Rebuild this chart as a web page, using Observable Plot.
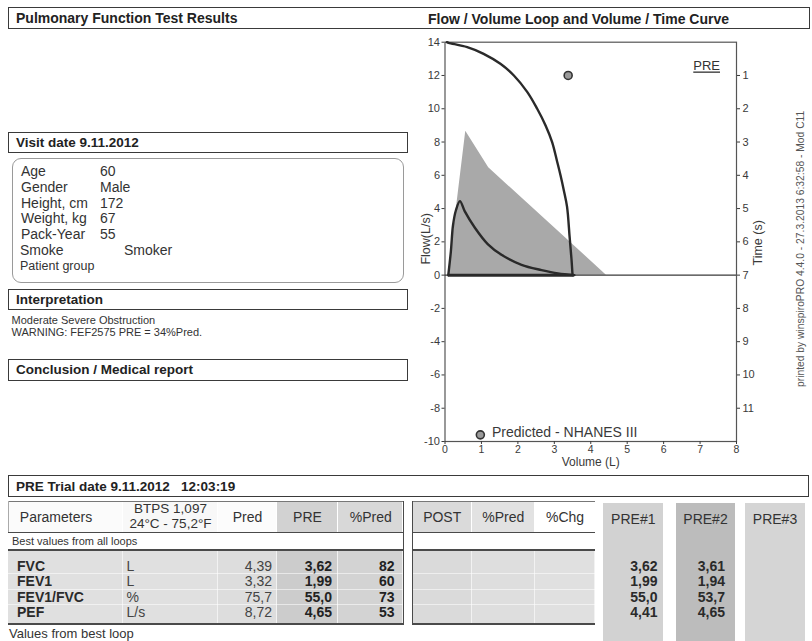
<!DOCTYPE html>
<html><head><meta charset="utf-8">
<script src="https://cdn.jsdelivr.net/npm/d3@7"></script>
<script src="https://cdn.jsdelivr.net/npm/@observablehq/plot@0.6"></script>
<style>
body{margin:0;background:#fff;}
#page{position:relative;width:812px;height:641px;overflow:hidden;font-family:"Liberation Sans",Arial,sans-serif;color:#2b2b2b;background:#fff;}
.abs{position:absolute;box-sizing:border-box;white-space:nowrap;}
.hbox{border:1.5px solid #3a3a3a;background:#fff;font-weight:bold;font-size:14px;padding-left:7px;display:flex;align-items:center;color:#222;}
.t{position:absolute;white-space:nowrap;line-height:1;transform:translateY(-50%);}
</style></head><body><div id="page"></div>
<script>
// ---------- chart data ----------
const flowTicks = [-10,-8,-6,-4,-2,0,2,4,6,8,10,12,14];
const volumeTicks = [0,1,2,3,4,5,6,7,8];
const timeTicks = [1,2,3,4,5,6,7,8,9,10,11];

// Flow / volume loop (measured, PRE)
const loopVolume = [0.09,0.16,0.22,0.30,0.41,0.54,0.82,1.18,1.55,2.10,2.65,3.10,3.55];
const loopFlow   = [0.00,1.40,3.00,3.90,4.45,3.85,2.85,1.85,1.22,0.62,0.30,0.10,0.00];

// Volume / time curve (PRE)
const vtVolume = [0.05,0.10,0.61,1.06,1.52,1.89,2.26,2.53,2.76,2.94,3.08,3.17,3.26,3.35,3.42,3.47,3.50];
const vtTime   = [0.00,0.02,0.15,0.35,0.65,1.00,1.50,2.00,2.50,3.00,3.60,4.00,4.45,4.95,5.85,6.50,7.00];

// Predicted area (shaded)
const predAreaVolume = [0.09,0.57,1.20,4.43];
const predAreaFlow   = [0.00,8.65,6.45,0.00];

// Predicted PEF marker
const predPointVolume = [3.38];
const predPointFlow = [12.0];

// ---------- table data ----------
const params   = ["FVC","FEV1","FEV1/FVC","PEF"];
const units    = ["L","L","%","L/s"];
const predVals = ["4,39","3,32","75,7","8,72"];
const preVals  = ["3,62","1,99","55,0","4,65"];
const pctPred  = ["82","60","73","53"];
const pre1Vals = ["3,62","1,99","55,0","4,41"];
const pre2Vals = ["3,61","1,94","53,7","4,65"];
const pre3Vals = ["","","",""];

const patientLabels = ["Age","Gender","Height, cm","Weight, kg","Pack-Year"];
const patientValues = ["60","Male","172","67","55"];

const page = document.getElementById("page");
function el(cls, style, html){
  const d=document.createElement("div"); d.className=cls; d.setAttribute("style",style); if(html!==undefined) d.innerHTML=html; page.appendChild(d); return d;
}
function hbox(x,y,w,h,text,fs){ el("abs hbox",`left:${x}px;top:${y}px;width:${w}px;height:${h}px;font-size:${fs||14}px;`,text); }
function txt(x,y,text,style){ el("t",`left:${x}px;top:${y}px;${style||""}`,text); }
function txtR(xr,y,text,style){ el("t",`right:${812-xr}px;top:${y}px;${style||""}`,text); }
function txtC(xc,y,text,style){ el("t",`left:${xc}px;top:${y}px;transform:translate(-50%,-50%);text-align:center;${style||""}`,text); }

// ---------- chart ----------
const loopData = loopVolume.map((v,i)=>({v, f: loopFlow[i]}));
const vtData = vtVolume.map((v,i)=>({v, t: vtTime[i]}));
const areaData = predAreaVolume.map((v,i)=>({v, f: predAreaFlow[i]}));
const predPoint = predPointVolume.map((v,i)=>({v, f: predPointFlow[i]}));

const chartDiv = el("abs", "left:405px;top:30px;width:400px;height:440px;overflow:visible;");
const chart = Plot.plot({
  width: 400, height: 440,
  marginLeft: 39.5, marginRight: 69, marginTop: 11.7, marginBottom: 29,
  x: {domain: [0, 8]},
  y: {domain: [-10, 14]},
  style: {background: "transparent", fontFamily: "'Liberation Sans', Arial, sans-serif", color: "#3a3a3a", overflow: "visible"},
  marks: [
    Plot.areaY(areaData, {x: "v", y: "f", fill: "#a9a9a9"}),
    Plot.frame({stroke: "#555", strokeWidth: 1.2}),
    Plot.ruleY([0], {stroke: "#3a3a3a", strokeWidth: 1.3}),
    Plot.ruleY([0], {x1: loopVolume[0], x2: loopVolume[loopVolume.length-1], stroke: "#2a2a2a", strokeWidth: 3}),
    Plot.line(loopData, {x: "v", y: "f", stroke: "#2a2a2a", strokeWidth: 2.4, curve: "catmull-rom"}),
    Plot.line(vtData, {x: "v", y: d => 14 - 2 * d.t, stroke: "#2a2a2a", strokeWidth: 2.4, curve: "catmull-rom"}),
    Plot.dot(predPoint, {x: "v", y: "f", r: 4, fill: "#9a9a9a", stroke: "#333", strokeWidth: 1.6}),
    Plot.axisY(flowTicks, {anchor: "left", tickSize: 3, tickPadding: 2, fontSize: 11, tickFormat: d => String(d), label: null}),
    Plot.axisY(timeTicks.map(t => 14 - 2 * t), {anchor: "right", tickSize: 3, tickPadding: 3, fontSize: 11, tickFormat: d => String((14 - d) / 2), label: null}),
    Plot.axisX(volumeTicks, {anchor: "bottom", tickSize: 3, tickPadding: 1, fontSize: 10.5, tickFormat: d => String(d), label: null}),
    Plot.text(["Flow(L/s)"], {frameAnchor: "left", textAnchor: "middle", rotate: -90, dx: -19, dy: -3, fontSize: 12.5}),
    Plot.text(["Time (s)"], {frameAnchor: "right", textAnchor: "middle", rotate: -90, dx: 21, dy: 1, fontSize: 12.5}),
    Plot.text(["Volume (L)"], {frameAnchor: "bottom", textAnchor: "middle", dy: 24, fontSize: 12}),
    Plot.text(["printed by winspiroPRO 4.4.0 - 27.3.2013 6:32:58 - Mod C11"], {frameAnchor: "right", textAnchor: "middle", rotate: -90, dx: 64, dy: 7, fontSize: 10.3, fill: "#555"}),
    Plot.text([{v: 7.18, f: 12.55, label: "PRE"}], {x: "v", y: "f", text: "label", fontSize: 13, fill: "#333"}),
    Plot.dot([{v: 0.97, f: -9.6}], {x: "v", y: "f", r: 4, fill: "#9a9a9a", stroke: "#333", strokeWidth: 1.6}),
    Plot.text([{v: 1.29, f: -9.45, label: "Predicted - NHANES III"}], {x: "v", y: "f", text: "label", textAnchor: "start", fontSize: 14, fill: "#3a3a3a"})
  ]
});
chartDiv.appendChild(chart);
d3.select(chart).selectAll("text").filter(function(){return this.textContent === "PRE";}).style("text-decoration", "underline");

// ---------- left panel ----------
el("abs","left:8px;top:6.5px;width:802px;height:22px;border:1.5px solid #3a3a3a;");
txt(16,17.5,"Pulmonary Function Test Results","font-weight:bold;font-size:14px;color:#222;");
txt(428,18.5,"Flow / Volume Loop and Volume / Time Curve","font-weight:bold;font-size:14px;color:#222;");

hbox(8,131.5,399.5,21.5,"Visit date 9.11.2012",13.5);
el("abs","left:11.5px;top:157.5px;width:392.5px;height:125px;border:1.3px solid #9a9a9a;border-radius:9px;");
const rowY=[170.7,186.7,202.7,218.3,234];
patientLabels.forEach((l,i)=>{ txt(21,rowY[i],l,"font-size:14px;color:#333;"); txt(100,rowY[i],patientValues[i],"font-size:14px;color:#333;"); });
txt(20,250,"Smoke","font-size:14px;color:#333;");
txt(124,250,"Smoker","font-size:14px;color:#333;");
txt(20,265.5,"Patient group","font-size:12.5px;color:#333;");

hbox(8,288.5,399.5,21,"Interpretation",13.5);
txt(11.5,320,"Moderate Severe Obstruction","font-size:11px;color:#333;");
txt(11.5,332,"WARNING: FEF2575 PRE = 34%Pred.","font-size:11px;color:#333;");
hbox(8,359,399.5,21.5,"Conclusion / Medical report",13.5);

// ---------- table ----------
hbox(8,475,800.5,22,"PRE Trial date 9.11.2012&nbsp;&nbsp;&nbsp;12:03:19",13.5);

const cols = [
  {x:8.3,   w:115,  head:"Parameters", hbg:"#fbfbfb", dbg:"#e0e0e0"},
  {x:123.3, w:95,   head:null, hbg:"#f8f8f8", dbg:"#e0e0e0"},
  {x:218.3, w:58.4, head:"Pred",  hbg:"#fcfcfc", dbg:"#dddddd"},
  {x:276.7, w:61.6, head:"PRE",   hbg:"#d2d2d2", dbg:"#cccccc"},
  {x:338.3, w:65,   head:"%Pred", hbg:"#d8d8d8", dbg:"#d3d3d3"},
  {x:412.7, w:59,   head:"POST",  hbg:"#dadada", dbg:"#dadada"},
  {x:471.7, w:63.3, head:"%Pred", hbg:"#e2e2e2", dbg:"#dedede"},
  {x:535,   w:60,   head:"%Chg",  hbg:"#ffffff", dbg:"#e0e0e0"}
];
cols.forEach((c,i)=>{
  el("abs",`left:${c.x}px;top:501px;width:${c.w}px;height:31px;background:${c.hbg};border-right:1px solid #fff;`);
  el("abs",`left:${c.x}px;top:550px;width:${c.w}px;height:73.5px;background:${c.dbg};border-right:1.5px solid #f2f2f2;`);
  if(i===0) txt(c.x+11.5,516.5,c.head,"font-size:14px;color:#333;");
  else if(c.head) txtC(c.x+c.w/2,516.5,c.head,"font-size:14px;color:#333;");
});
txtC(170.5,508.5,"BTPS 1,097","font-size:13.5px;color:#333;");
txtC(170.5,523.5,"24°C - 75,2°F","font-size:13.5px;color:#333;");
// row separators
[573.3,588.6,604].forEach(y=>el("abs",`left:8.3px;top:${y}px;width:587px;height:1px;background:rgba(255,255,255,0.55);`));
// heavy lines
el("abs","left:8.3px;top:500.5px;width:587px;height:1px;background:#777;");
[531.5,549.3,623].forEach(y=>el("abs",`left:8.3px;top:${y}px;width:587px;height:1.8px;background:#4a4a4a;`));
el("abs","left:8.3px;top:500.5px;width:1px;height:31px;background:#aaa;");
// double vertical line
el("abs","left:403.3px;top:500.5px;width:9.4px;height:124px;background:#fff;border-left:1.6px solid #4a4a4a;border-right:1.6px solid #4a4a4a;");

txt(12,540.5,"Best values from all loops","font-size:11px;color:#333;");
txt(9,632.5,"Values from best loop","font-size:13px;color:#333;");

// PRE# columns
const preCols=[{x:603.3,w:60,bg:"#d2d2d2",head:"PRE#1",vals:pre1Vals,r:657.5},
               {x:676,w:59,bg:"#bcbcbc",head:"PRE#2",vals:pre2Vals,r:725},
               {x:745,w:60,bg:"#d5d5d5",head:"PRE#3",vals:pre3Vals,r:798}];
preCols.forEach(c=>{
  el("abs",`left:${c.x}px;top:503px;width:${c.w}px;height:140px;background:${c.bg};`);
  txtC(c.x+c.w/2,518.5,c.head,"font-size:14px;color:#333;");
});

const rowsY=[565.7,581,596.5,611.8];
params.forEach((p,i)=>{
  const y=rowsY[i];
  txt(17,y,p,"font-size:14px;font-weight:bold;color:#2a2a2a;");
  txt(126.5,y,units[i],"font-size:14px;color:#444;");
  txtR(272,y,predVals[i],"font-size:14px;color:#444;");
  txtR(332,y,preVals[i],"font-size:14px;font-weight:bold;color:#222;");
  txtR(394.5,y,pctPred[i],"font-size:14px;font-weight:bold;color:#222;");
  preCols.forEach(c=>{ if(c.vals[i]) txtR(c.r,y,c.vals[i],"font-size:14px;font-weight:bold;color:#2a2a2a;"); });
});
</script>
</body></html>
